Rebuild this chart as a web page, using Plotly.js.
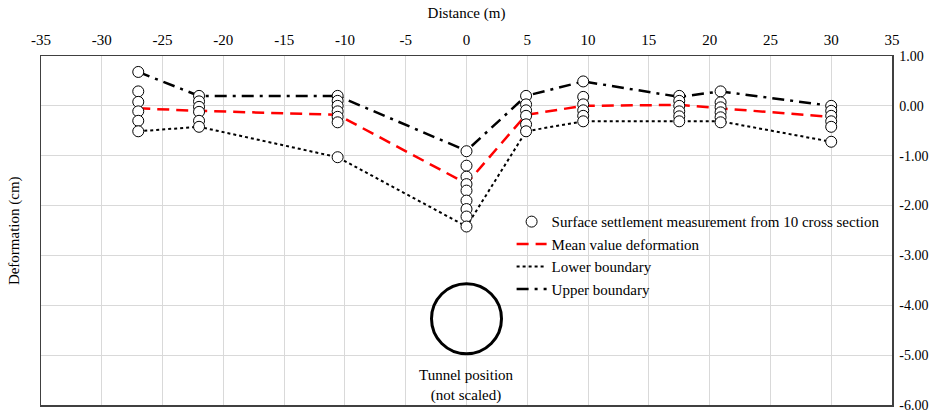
<!DOCTYPE html>
<html>
<head>
<meta charset="utf-8">
<script src="https://cdn.plot.ly/plotly-3.0.1.min.js"></script>
<style>html,body{margin:0;padding:0;background:#fff;}#chart{width:935px;height:414px;}</style>
</head>
<body>
<div id="chart"></div>
<script>
// Section positions (m)
const sectionX = [-27, -22, -10.6, 0, 4.9, 9.6, 17.5, 20.9, 30];
// Measurements at each section (cm)
const meas_m27 = [0.68, 0.29, 0.08, -0.11, -0.30, -0.51];
const meas_m22 = [0.20, 0.09, -0.02, -0.12, -0.30, -0.42];
const meas_m10 = [0.20, 0.10, 0.00, -0.11, -0.22, -0.33, -1.03];
const meas_0   = [-0.91, -1.20, -1.42, -1.57, -1.70, -1.90, -2.07, -2.22, -2.42];
const meas_5   = [0.20, 0.03, -0.09, -0.20, -0.37, -0.51];
const meas_10  = [0.49, 0.18, 0.03, -0.09, -0.20, -0.31];
const meas_17  = [0.20, 0.10, 0.00, -0.11, -0.21, -0.31];
const meas_21  = [0.29, 0.07, -0.03, -0.13, -0.23, -0.33];
const meas_30  = [0.00, -0.10, -0.20, -0.31, -0.42, -0.72];
const measGroups = [meas_m27, meas_m22, meas_m10, meas_0, meas_5, meas_10, meas_17, meas_21, meas_30];

const meanY  = [-0.05, -0.10, -0.18, -1.56, -0.18, 0.00, 0.02, -0.05, -0.22];
const lowerY = [-0.51, -0.42, -1.03, -2.42, -0.51, -0.31, -0.31, -0.31, -0.72];
const upperY = [0.68, 0.20, 0.20, -0.90, 0.20, 0.49, 0.18, 0.29, 0.00];

const tunnelX = [0];
const tunnelY = [-4.27];

const xTickVals = [-35, -30, -25, -20, -15, -10, -5, 0, 5, 10, 15, 20, 25, 30, 35];
const xTickText = ["-35", "-30", "-25", "-20", "-15", "-10", "-5", "0", "5", "10", "15", "20", "25", "30", "35"];
const yTickVals = [1, 0, -1, -2, -3, -4, -5, -6];
const yTickText = ["1.00", "0.00", "-1.00", "-2.00", "-3.00", "-4.00", "-5.00", "-6.00"];

const measX = [], measY = [];
measGroups.forEach((g, i) => g.forEach(v => { measX.push(sectionX[i]); measY.push(v); }));

const FONT = "Liberation Serif";
const FS = 15;

const traces = [
  {x: tunnelX, y: tunnelY, mode: 'markers', showlegend: false, hoverinfo: 'skip',
   marker: {symbol: 'circle-open', size: 70, color: '#000', line: {width: 3, color: '#000'}}},
  {x: sectionX, y: meanY, mode: 'lines', name: 'Mean value deformation', legendrank: 2,
   line: {color: '#ff0000', width: 2.5, dash: '12px,7px'}},
  {x: sectionX, y: lowerY, mode: 'lines', name: 'Lower boundary', legendrank: 3,
   line: {color: '#000', width: 2, dash: 'dot'}},
  {x: sectionX, y: upperY, mode: 'lines', name: 'Upper boundary', legendrank: 4,
   line: {color: '#000', width: 2.5, dash: '12px,6px,3px,6px'}},
  {x: measX, y: measY, mode: 'markers', name: 'Surface settlement measurement from 10 cross section', legendrank: 1,
   marker: {symbol: 'circle', size: 11, color: '#fff', line: {width: 1, color: '#000'}}}
];

const layout = {
  width: 935, height: 414,
  margin: {l: 41, r: 43, t: 56, b: 9, pad: 0},
  paper_bgcolor: '#fff', plot_bgcolor: '#fff',
  font: {family: FONT, size: FS, color: '#000'},
  showlegend: true,
  legend: {x: 0.553, y: 0.572, xanchor: 'left', yanchor: 'top', bgcolor: 'rgba(0,0,0,0)',
           font: {family: FONT, size: FS}, traceorder: 'normal', tracegroupgap: 0, itemwidth: 30},
  xaxis: {side: 'top', range: [-35, 35], tickvals: xTickVals, ticktext: xTickText,
          showgrid: true, gridcolor: '#d9d9d9', gridwidth: 1, zeroline: false,
          showline: true, linecolor: '#404040', linewidth: 1.5, mirror: true, ticks: '',
          ticklabelstandoff: 4, tickfont: {family: FONT, size: FS},
          title: {text: 'Distance (m)', font: {family: FONT, size: FS}, standoff: 9}},
  yaxis: {side: 'right', range: [-6, 1], tickvals: yTickVals, ticktext: yTickText,
          showgrid: true, gridcolor: '#d9d9d9', gridwidth: 1, zeroline: false,
          showline: true, linecolor: '#404040', linewidth: 1.5, mirror: true, ticks: '',
          ticklabelstandoff: 3, tickfont: {family: FONT, size: 14}},
  annotations: [
    {xref: 'paper', yref: 'paper', x: -0.031, y: 0.5, xanchor: 'center', yanchor: 'middle',
     text: 'Deformation (cm)', textangle: -90, showarrow: false, font: {family: FONT, size: FS}},
    {xref: 'x', yref: 'y', x: 0, y: -5.6, xanchor: 'center', yanchor: 'middle',
     text: 'Tunnel position<br>(not scaled)', showarrow: false, font: {family: FONT, size: FS}}
  ]
};

Plotly.newPlot('chart', traces, layout, {displayModeBar: false, staticPlot: true});
</script>
</body>
</html>
